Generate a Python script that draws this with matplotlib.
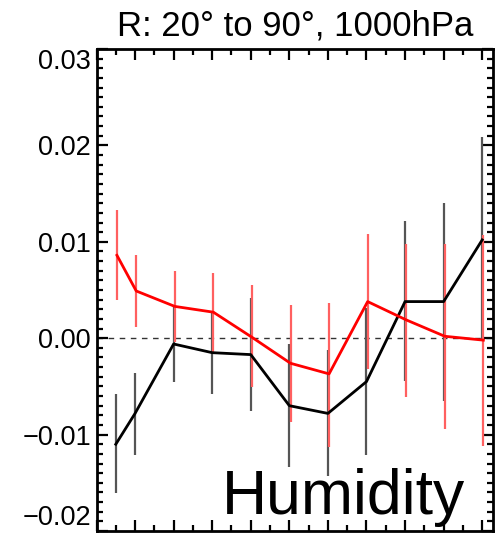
import matplotlib
matplotlib.use("Agg")
import matplotlib.pyplot as plt
import numpy as np
from matplotlib.ticker import MultipleLocator

# Data
x = [0.5, 1, 2, 3, 4, 5, 6, 7, 8, 9, 10]
red = [0.0086, 0.0049, 0.0033, 0.0027, 0.0001, -0.0026, -0.0037, 0.0038, 0.0019, 0.0002, -0.0002]
red_hi = [0.0133, 0.0086, 0.0070, 0.0068, 0.0055, 0.0034, 0.0037, 0.0108, 0.0098, 0.0098, 0.0107]
red_lo = [0.0040, 0.0012, -0.0004, -0.0014, -0.0051, -0.0087, -0.0113, -0.0032, -0.0061, -0.0094, -0.0112]
black = [-0.0110, -0.0078, -0.0006, -0.0015, -0.0017, -0.0070, -0.0078, -0.0045, 0.0038, 0.0038, 0.0102]
black_hi = [-0.0058, -0.0036, 0.0032, 0.0027, 0.0042, -0.0006, -0.0012, 0.0031, 0.0122, 0.0140, 0.0209]
black_lo = [-0.0161, -0.0121, -0.0045, -0.0058, -0.0076, -0.0134, -0.0143, -0.0121, -0.0044, -0.0065, -0.0003]
title = "R: 20° to 90°, 1000hPa"
label = "Humidity"
yticks = [-0.02, -0.01, 0.00, 0.01, 0.02, 0.03]

plt.rcParams['font.family'] = ['Liberation Sans', 'DejaVu Sans']

fig = plt.figure(figsize=(5.0, 5.34), dpi=100)
ax = fig.add_axes([0.193, 0.0056, 0.793, 0.9026])

xa = np.array(x)
ax.vlines(xa, black_lo, black_hi, color='#555555', lw=1.6, zorder=2)
ax.vlines(xa + 0.03, red_lo, red_hi, color='#ff6060', lw=1.6, zorder=2)
ax.axhline(0, color='#333333', lw=1.0, ls=(0, (4, 4)), zorder=1)
ax.plot(xa, black, color='black', lw=2.0, zorder=3)
ax.plot(xa + 0.03, red, color='#ff0000', lw=2.0, zorder=4)

ax.set_xlim(0, 10.28)
ax.set_ylim(-0.02, 0.03)
ax.set_yticks(yticks)
ax.set_yticklabels([f"{v:.2f}".replace('-', '\u2212') for v in yticks])
ax.yaxis.set_minor_locator(MultipleLocator(0.001))
ax.xaxis.set_major_locator(MultipleLocator(1))
ax.xaxis.set_minor_locator(MultipleLocator(0.5))
ax.set_xticklabels([])
ax.tick_params(axis='both', which='major', direction='in', length=8, width=1.6,
               top=True, right=True, labelsize=19.5, pad=4)
ax.tick_params(axis='both', which='minor', direction='in', length=4, width=1.6,
               top=True, right=True)
ax.tick_params(axis='x', which='both', labelbottom=False)
for s in ax.spines.values():
    s.set_linewidth(2.0)

# keep the extreme y labels inside the figure, as in the reference
yt = ax.yaxis.get_major_ticks()
yt[0].label1.set_va('bottom')
yt[-1].label1.set_va('top')

ax.set_title(title, fontsize=25, pad=10)
ax.text(0.93, 0.035, label, transform=ax.transAxes, ha='right', va='baseline',
        fontsize=45, color='black', zorder=5)

fig.savefig("out.png", dpi=100)
